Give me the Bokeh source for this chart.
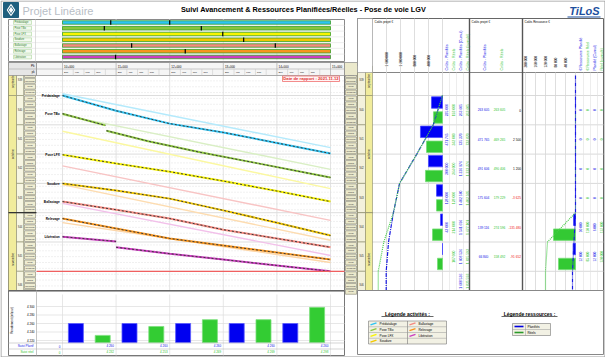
import math
import numpy as np
from bokeh.plotting import figure
from bokeh.models import Range1d
from bokeh.embed import file_html
from bokeh.resources import INLINE
from bokeh.core.properties import value

nan = float("nan")

# ---------------- DATA ----------------
activities = ["Prédatalage", "Pose TBo", "Pose LFX", "Soudure", "Ballastage", "Relevage", "Libération"]
act_colors = ["#2ec4f4", "#8cc63e", "#f8f400", "#f3c800", "#f58a80", "#f7951e", "#cc3ec0"]
plan_colors = ["#b4eafc", "#d9efc4", "#fbf8a0", "#fddcb0", "#f8c4c4", "#fcd6a8", "#f2c0ea"]

km_ticks = [10, 11, 12, 13, 14, 15]
km_labels = ["10+000", "11+000", "12+000", "13+000", "14+000", "15+000"]
sub_labels = ["200", "400", "600", "800"]

gantt_start = [10.0, 10.0, 10.0, 10.0, 10.0, 10.0, 10.0]
gantt_end = [15.0, 15.0, 15.0, 15.0, 15.0, 15.0, 15.0]
mark_row = [0, 0, 1, 1, 2, 3, 4, 4, 5, 6]
mark_pk = [10.90, 12.0, 10.78, 12.59, 12.99, 13.38, 11.29, 13.97, 12.29, 10.99]

# working days, 0 = lundi 04/10/2021
day_names = ["lundi", "mardi", "mercredi", "jeudi", "vendredi"]
week_labels = ["S39", "S40", "S41", "S42", "S43", "S44", "S45", "S46"]
week_start = [-5, 0, 5, 10, 15, 20, 25, 30]
month_labels = ["septembre", "octobre", "novembre"]
month_start = [-5, 0, 20]
month_end = [0, 20, 36]
report_day = 30.0
report_label = "Date de rapport : 2021.11.12"

# actual progress lines (pk in km, working day)
pred_pk = [10.0, 11.0, 12.0, 13.0, 14.0, 15.0]
pred_day = [0.0, 2.6, 4.8, 6.3, 8.1, 9.9]
tbo_pk = [10.0, 10.8, nan, 10.82, 11.6, 12.57, 13.6, 15.0]
tbo_day = [3.1, 5.1, nan, 6.0, 7.8, 9.7, 11.5, 14.0]
lfx_pk = [10.0, 11.0, 12.0, 13.0, 14.0, 15.0]
lfx_day = [10.1, 11.6, 13.0, 14.6, 16.3, 18.1]
soud_pk = [10.0, 11.0, 12.0, 13.0, 14.0, 15.0]
soud_day = [15.0, 16.2, 17.6, 19.6, 21.7, 23.9]
ball_pk = [10.0, 11.0, 12.0, 13.0, 14.0, 15.0]
ball_day = [18.1, 19.5, 21.0, 22.9, 24.4, 25.9]
rel_pk = [10.0, 11.0, 12.0, 13.0, 14.0, 15.0]
rel_day = [21.0, 22.7, 24.4, 25.6, 26.8, 28.0]
lib_pk = [10.0, 11.0, nan, 11.0, 12.0, 13.0, 14.0, 15.0]
lib_day = [24.1, 24.9, nan, 25.9, 27.0, 28.0, 29.0, 30.0]

# planned lines (start / end)
plan_pk_start = [10.0, 10.0, 10.0, 10.0, 10.0, 10.0, 10.0]
plan_pk_end = [15.0, 15.0, 15.0, 15.0, 15.0, 15.0, 15.0]
plan_day_start = [-0.3, 3.3, 6.1, 15.2, 12.0, 21.7, 18.4]
plan_day_end = [8.9, 12.6, 15.9, 24.7, 21.3, 28.5, 27.3]

# histogram (per km)
hist_centers = [10.5, 11.5, 12.5, 13.5, 14.5]
hist_plan = [4260, 4260, 4260, 4260, 4260]
hist_real = [4232, 4253, 4269, 4269, 4298]
hist_ticks = [4220, 4240, 4260, 4280, 4300]
hist_base = 4215

# costs (weekly rows)
week_rows = [0, 5, 10, 15, 20, 25]
costA_plan = [235000, 471765, 300000, 128000, 43000, 0]
costA_real = [193000, 342000, 364000, 128000, 214000, 107000]
cum_days = [0, 5, 10, 15, 20, 25, 30]
cum_plan = [0, 263605, 735370, 1226976, 1402580, 1541696, 1608536]
cum_real = [0, 263605, 732870, 1223276, 1402505, 1677101, 1835593]
costA_ticks = [400000, 800000, 1200000, 1600000]
costB_plan = [263605, 471765, 491606, 175604, 139116, 66840]
costB_real = [263605, 469265, 490406, 179229, 274596, 158492]
res_plan = [0, 0, 0, 0, 10000, 12000]
res_real = [0, 0, 0, 0, 110000, 85000]
res_cum_plan = [0, 0, 0, 0, 0, 6000, 12000]
res_cum_real = [0, 0, 0, 0, 0, 112000, 120000]
costC_ticks = [40000, 80000, 120000, 160000, 200000]

# ---------------- LAYOUT CONSTANTS ----------------
W, H = 605, 357
X_KM10, PX_KM = 62.0, 53.6
Y_DAY0, PX_DAY = 95.0, 5.86
Y_ROW0, PX_ROW = 22.0, 5.75
Y_H0, PX_H = 340.0, 0.425
XA0, EUR_A, EUR_AB = 442.0, 28571.43, 21400.0
XC0, EUR_C, EUR_CB = 575.0, 4000.0, 5000.0
FONT = value("Liberation Sans")
BLUE, GREEN = "#1515e8", "#33c533"


def fmt(v):
    return f"{int(round(v)):,}".replace(",", " ")


p = figure(width=W, height=H, x_range=Range1d(0, W), y_range=Range1d(H, 0),
           output_backend="svg", toolbar_location=None, min_border=0)
p.axis.visible = False
p.grid.visible = False
p.outline_line_color = None
p.background_fill_color = "white"
p.border_fill_color = "white"

p.extra_x_ranges = {
    "pk": Range1d(10 - X_KM10 / PX_KM, 10 + (W - X_KM10) / PX_KM),
    "cA": Range1d(XA0 * EUR_A, -(W - XA0) * EUR_A),
    "cAb": Range1d(XA0 * EUR_AB, -(W - XA0) * EUR_AB),
    "cC": Range1d(XC0 * EUR_C, -(W - XC0) * EUR_C),
    "cCb": Range1d(XC0 * EUR_CB, -(W - XC0) * EUR_CB),
}
p.extra_y_ranges = {
    "day": Range1d((H - Y_DAY0) / PX_DAY, -Y_DAY0 / PX_DAY),
    "row": Range1d((H - Y_ROW0) / PX_ROW, -Y_ROW0 / PX_ROW),
    "hist": Range1d(4220 - (H - Y_H0) / PX_H, 4220 + Y_H0 / PX_H),
}
DAY_TOP = (75 - Y_DAY0) / PX_DAY
DAY_BOT = (290 - Y_DAY0) / PX_DAY


def _lst(v, n):
    return list(v) if isinstance(v, (list, tuple)) else [v] * n


def txt(x, y, t, size="4px", color="black", align="left", base="middle", bold=False,
        angle=0.0, xr="default", yr="default", italic=False):
    style = "normal"
    if bold and italic:
        style = "bold italic"
    elif bold:
        style = "bold"
    elif italic:
        style = "italic"
    n = max(len(v) if isinstance(v, (list, tuple)) else 1 for v in (x, y, t))
    kw = dict(x=_lst(x, n), y=_lst(y, n), text=_lst(t, n))
    if isinstance(color, list):
        kw["text_color"] = color
        p.text(x="x", y="y", text="text", text_color="text_color", source=kw,
               text_font=FONT, text_font_size=size, text_align=align, text_baseline=base,
               text_font_style=style, angle=angle, x_range_name=xr, y_range_name=yr)
    else:
        p.text(x="x", y="y", text="text", source=kw, text_color=color,
               text_font=FONT, text_font_size=size, text_align=align, text_baseline=base,
               text_font_style=style, angle=angle, x_range_name=xr, y_range_name=yr)


def box(l, r, t, b, fill=None, line="#888", lw=1.0):
    p.quad(left=[l], right=[r], top=[t], bottom=[b], fill_color=fill,
           fill_alpha=1 if fill else 0, line_color=line, line_width=lw)


def hl(x0, x1, y, color="#ccc", lw=1.0, dash="solid", yr="default", xr="default"):
    ys = y if isinstance(y, list) else [y]
    p.segment(x0=[x0] * len(ys), x1=[x1] * len(ys), y0=ys, y1=ys, line_color=color,
              line_width=lw, line_dash=dash, y_range_name=yr, x_range_name=xr)


def vl(x, y0, y1, color="#ccc", lw=1.0, dash="solid", xr="default", yr="default"):
    xs = x if isinstance(x, list) else [x]
    p.segment(x0=xs, x1=xs, y0=[y0] * len(xs), y1=[y1] * len(xs), line_color=color,
              line_width=lw, line_dash=dash, x_range_name=xr, y_range_name=yr)


# ---------------- TITLE ----------------
box(0.5, 604.5, 0.5, 356.5, fill="white", line="#9a9a9a")
box(3, 18, 2, 17, fill="#1f5f7e", line="#1f5f7e")
p.scatter(x=[10.5], y=[9.5], marker="diamond", size=11, fill_color=None, line_color="white", line_width=1.2)
p.scatter(x=[10.5], y=[9.5], marker="diamond", size=5, fill_color="white", line_color="white")
txt(22, 10, "Projet Linéaire", size="11px", color="#b8bec6")
txt(303, 9, "Suivi Avancement & Ressources Planifiées/Réelles - Pose de voie LGV", size="7.3px", bold=True, align="center")
txt(584, 10, "TiLoS", size="11px", color="#1d4f9e", bold=True, italic=True, align="center")
hl(567, 600, 16.5, color="#1d4f9e", lw=1.2)

# ---------------- GANTT ----------------
box(8, 344, 19, 61, fill="white", line="#8a8a8a")
rows = list(range(len(activities)))
hl(8, 344, [Y_ROW0 + PX_ROW * (i + 0.5) for i in rows[:-1]], color="#e2e2e2", lw=0.6)
vl([35, 62], 19, 61, color="#d0d0d0", lw=0.7)
vl([km for km in km_ticks[1:-1]], -0.6, 6.6, color="#d8d8d8", lw=0.7, xr="pk", yr="row")
p.quad(left=[13] * 7, right=[31] * 7, top=[r - 0.33 for r in rows], bottom=[r + 0.33 for r in rows],
       fill_color="#f4faf0", line_color="#9ccf8c", line_width=0.5, y_range_name="row")
txt(14, rows, activities, size="2.6px", color="#2f7a2f", yr="row")
p.hbar(y=rows, left=gantt_start, right=gantt_end, height=0.6, fill_color=act_colors,
       line_color="#3aa02a", line_width=0.8, x_range_name="pk", y_range_name="row")
p.segment(x0=mark_pk, x1=mark_pk, y0=[r - 0.38 for r in mark_row], y1=[r + 0.38 for r in mark_row],
          line_color="black", line_width=1.2, x_range_name="pk", y_range_name="row")

# ---------------- MAIN CHART ----------------
box(8, 344, 62, 290, fill="white", line="#777")
all_days = list(range(-4, 34))
hl(36, 344, [d + 0.5 for d in all_days], color="#cfcfcf", lw=0.6, dash="1 2", yr="day")
hl(36, 344, week_start[1:], color="#d4d4d4", lw=0.8, yr="day")
vl(km_ticks, DAY_TOP, DAY_BOT, color="#dcdcdc", lw=0.8, xr="pk", yr="day")
# left axis
p.quad(left=[8] * 3, right=[16] * 3, top=month_start, bottom=month_end, fill_color="#f1ec9c",
       line_color="#8b8b6a", line_width=0.6, y_range_name="day")
p.quad(left=[16] * len(week_start), right=[23] * len(week_start), top=week_start,
       bottom=[w + 5 for w in week_start], fill_color="#f7f6e2", line_color="#8b8b6a",
       line_width=0.6, y_range_name="day")
p.quad(left=[24] * len(all_days), right=[35] * len(all_days), top=[d + 0.08 for d in all_days],
       bottom=[d + 0.92 for d in all_days], fill_color="#efedd2", line_color="#6e6e5a",
       line_width=0.5, y_range_name="day")
txt(29.5, [d + 0.5 for d in all_days], [day_names[d % 5] for d in all_days], size="2.4px",
    align="center", color="#333", yr="day")
txt(19.5, [w + 2.5 for w in week_start], week_labels, size="2.6px", align="center", color="#333", yr="day")
txt(12, [(a + b) / 2 for a, b in zip(month_start, month_end)], month_labels, size="3px",
    align="center", angle=math.pi / 2, color="#333", yr="day")
hl(8, 36, month_start[2], color="#333", lw=1.2, yr="day")
# right axis
p.quad(left=[345] * len(all_days), right=[356] * len(all_days), top=[d + 0.08 for d in all_days],
       bottom=[d + 0.92 for d in all_days], fill_color="#ebe9cc", line_color="#6e6e5a",
       line_width=0.5, y_range_name="day")
txt(350.5, [d + 0.5 for d in all_days], [day_names[d % 5] for d in all_days], size="2.4px",
    align="center", color="#333", yr="day")

# planned lines
for i in rows:
    p.line(x=[plan_pk_start[i], plan_pk_end[i]], y=[plan_day_start[i], plan_day_end[i]],
           line_color=plan_colors[i], line_width=1.4, x_range_name="pk", y_range_name="day")
# actual lines
real_pk = [pred_pk, tbo_pk, lfx_pk, soud_pk, ball_pk, rel_pk, lib_pk]
real_day = [pred_day, tbo_day, lfx_day, soud_day, ball_day, rel_day, lib_day]
for i in rows:
    p.line(x=real_pk[i], y=real_day[i], line_color=act_colors[i], line_width=2.0,
           x_range_name="pk", y_range_name="day")
    p.line(x=real_pk[i], y=real_day[i], line_color="#3a3a3a", line_width=1.0, line_dash="2 2",
           x_range_name="pk", y_range_name="day")
txt(9.95, [d[0] for d in real_day], activities, size="3.2px", bold=True, align="right",
    xr="pk", yr="day")
hl(36, 344, report_day, color="#f06060", lw=1.2, yr="day")

# header band (drawn over the grid)
box(8, 36, 62, 75, fill="#e6e6e6", line="#888", lw=0.7)
box(36, 344, 62, 75, fill="#f5f5f5", line="#888", lw=0.7)
box(344, 357, 62, 75, fill="#ebe9cc", line="#888", lw=0.7)
hl(8, 344, 68.5, color="#aaa", lw=0.6)
txt(34, 65, "Pk", size="3px", align="right")
txt(34, 71.5, "pk", size="2.6px", align="right")
vl(km_ticks, 62, 75, color="#aaa", lw=0.7, xr="pk")
txt([k + 0.03 for k in km_ticks], 65.3, km_labels, size="3px", xr="pk")
sub_x = [k + 0.2 * (j + 1) for k in km_ticks[:-1] for j in range(4)]
sub_t = [sub_labels[j] for k in km_ticks[:-1] for j in range(4)]
vl(sub_x, 68.5, 75, color="#c4c4c4", lw=0.5, xr="pk")
txt([x - 0.17 for x in sub_x], 71.8, sub_t, size="2.4px", xr="pk")
box(282, 339, 75.5, 81, fill="#fff4f4", line="#f07070", lw=0.8)
txt(310.5, 78.4, report_label, size="4.2px", color="#e03030", bold=True, align="center")

# ---------------- HISTOGRAM ----------------
box(8, 344, 290, 355, fill="white", line="#777")
hl(8, 344, 290.5, color="#555", lw=1.2)
hl(36, 344, hist_ticks, color="#dcdcdc", lw=0.7, yr="hist")
vl(km_ticks, 294, 355, color="#dcdcdc", lw=0.7, xr="pk")
vl(36, 290, 355, color="#aaa", lw=0.7)
txt(34, hist_ticks, [fmt(t) for t in hist_ticks], size="3px", align="right", yr="hist")
txt(11, 320, "Rendement (m/jour)", size="3px", align="center", angle=math.pi / 2)
p.vbar(x=[c - 0.25 for c in hist_centers], top=hist_plan, bottom=hist_base, width=0.28,
       fill_color="#0000f0", line_color="#5a5aff", line_width=0.8, x_range_name="pk", y_range_name="hist")
p.vbar(x=[c + 0.25 for c in hist_centers], top=hist_real, bottom=hist_base, width=0.28,
       fill_color="#33cc33", line_color="#7be07b", line_width=0.8, x_range_name="pk", y_range_name="hist")
hl(8, 344, [342.5, 348.5], color="#bbb", lw=0.6)
txt(33, 345.5, "Suivi Planif", size="3.2px", color=BLUE, align="right")
txt(33, 351.5, "Suivi réel", size="3.2px", color=GREEN, align="right")
txt([k - 0.04 for k in km_ticks], 345.5, ["0"] + [fmt(v) for v in hist_plan], size="3px",
    color=BLUE, align="right", xr="pk")
txt([k - 0.04 for k in km_ticks], 351.5, ["0"] + [fmt(v) for v in hist_real], size="3px",
    color=GREEN, align="right", xr="pk")

# ---------------- COSTS ----------------
box(357, 603, 18, 290, fill="white", line="#666")
hl(357, 603, 72, color="#666", lw=0.8)
hl(357, 603, week_start[1:], color="#cfcfcf", lw=0.8, yr="day")
hl(357, 372, month_start[2], color="#333", lw=1.2, yr="day")
p.quad(left=[357] * len(week_start), right=[365] * len(week_start), top=week_start,
       bottom=[w + 5 for w in week_start], fill_color="#f3f1dc", line_color="#8b8b6a",
       line_width=0.6, y_range_name="day")
txt(361, [w + 2.5 for w in week_start], week_labels, size="2.6px", align="center", color="#333", yr="day")
p.quad(left=[365] * 3, right=[372] * 3, top=month_start, bottom=month_end, fill_color="#f1ec9c",
       line_color="#8b8b6a", line_width=0.6, y_range_name="day")
txt(368.5, [(a + b) / 2 for a, b in zip(month_start, month_end)], month_labels, size="3px",
    align="center", angle=math.pi / 2, color="#333", yr="day")
box(357, 372, 18, 72, fill="white", line="#888", lw=0.6)

# panel A
vl(costA_ticks + [0], 18, 290, color="#d6d6d6", lw=0.8, xr="cA")
vl([449, 456, 463], 72, 290, color="#e0e0e0", lw=0.6)
txt(374, 21.5, "Coûts projet €", size="3px")
txt(costA_ticks, 66, [fmt(t) for t in costA_ticks], size="3.2px", angle=math.pi / 2, xr="cA")
txt([446, 453, 460, 467], 70,
    ["Coûts - Planifiés", "Coûts - Réels", "Coûts - Planifiés (Cumul)", "Coûts - Réels (cumulé)"],
    size="3.6px", angle=math.pi / 2, color=[BLUE, GREEN, BLUE, GREEN])
p.hbar(y=[w + 1.2 for w in week_rows], height=1.95, left=0, right=costA_plan, fill_color="#0000f5",
       line_color="#4a4aff", line_width=0.8, x_range_name="cAb", y_range_name="day")
p.hbar(y=[w + 3.75 for w in week_rows], height=1.95, left=0, right=costA_real, fill_color="#33c933",
       line_color="#77dd77", line_width=0.8, x_range_name="cAb", y_range_name="day")
p.line(x=cum_plan + [cum_plan[-1]], y=cum_days + [DAY_BOT], line_color="#1a1ae0", line_width=1.2,
       line_dash="4 1 1 1", x_range_name="cA", y_range_name="day")
p.line(x=cum_real + [cum_real[-1]], y=cum_days + [DAY_BOT], line_color="#44cc44", line_width=1.2,
       line_dash="1 1", x_range_name="cA", y_range_name="day")
mid = [w + 2.5 for w in week_rows]
txt(446, mid, [fmt(v) if v else "" for v in costA_plan], size="3.4px", color=BLUE, align="center", angle=math.pi / 2, yr="day")
txt(453, mid, [fmt(v) for v in costA_real], size="3.4px", color=GREEN, align="center", angle=math.pi / 2, yr="day")
txt(460, mid + [31.7], [fmt(v) for v in cum_plan[1:]] + [fmt(cum_plan[-1])], size="3.4px", color=BLUE, align="center", angle=math.pi / 2, yr="day")
txt(467, mid + [31.7], [fmt(v) for v in cum_real[1:]] + [fmt(cum_real[-1])], size="3.4px", color=GREEN, align="center", angle=math.pi / 2, yr="day")

# panel B
vl(469, 18, 290, color="#555", lw=1.4)
txt(471, 21.5, "Coûts projet €", size="3px")
txt([484, 501], 70, ["Coûts - Planifiés", "Coûts - Réels"], size="3.6px", angle=math.pi / 2,
    color=[BLUE, GREEN])
txt(483, mid, [fmt(v) for v in costB_plan], size="3.2px", color=BLUE, align="center", yr="day")
txt(499, mid, [fmt(v) for v in costB_real], size="3.2px", color=GREEN, align="center", yr="day")
diffB = [a - b for a, b in zip(costB_plan, costB_real)]
txt(520.5, mid, [fmt(v) for v in diffB], size="3.2px",
    color=["black" if v >= 0 else "#ee2020" for v in diffB], align="right", yr="day")

# panel C
vl(522, 18, 290, color="#555", lw=1.4)
txt(524, 21.5, "Coûts Ressource €", size="3px")
vl(costC_ticks + [0], 72, 290, color="#d6d6d6", lw=0.8, xr="cC")
vl([583, 590, 597], 72, 290, color="#e0e0e0", lw=0.6)
txt(costC_ticks, 67, [fmt(t) for t in costC_ticks], size="3.2px", angle=math.pi / 2, xr="cC")
txt([580, 587, 594, 601], 70,
    ["€ Ressource Planifié", "€ Ressource Réel", "Planifié (Cumul)", "Réel (cumulé)"],
    size="3.6px", angle=math.pi / 2, color=[BLUE, GREEN, BLUE, GREEN])
p.hbar(y=[w + 1.2 for w in week_rows], height=1.95, left=0, right=res_plan, fill_color="#0000f5",
       line_color="#4a4aff", line_width=0.8, x_range_name="cCb", y_range_name="day")
p.hbar(y=[w + 3.75 for w in week_rows], height=1.95, left=0, right=res_real, fill_color="#33c933",
       line_color="#77dd77", line_width=0.8, x_range_name="cCb", y_range_name="day")
p.line(x=res_cum_plan + [res_cum_plan[-1]], y=[DAY_TOP] + cum_days[1:] + [DAY_BOT], line_color="#1a1ae0",
       line_width=1.2, line_dash="4 1 1 1", x_range_name="cC", y_range_name="day")
p.line(x=res_cum_real[4:] + [res_cum_real[-1]], y=cum_days[4:] + [DAY_BOT], line_color="#44cc44",
       line_width=1.2, line_dash="1 1", x_range_name="cC", y_range_name="day")
txt(580, mid, [fmt(v) for v in res_plan], size="3.2px", color=BLUE, align="center", angle=math.pi / 2, yr="day")
txt(587, mid, [fmt(v) for v in res_real], size="3.2px", color=GREEN, align="center", angle=math.pi / 2, yr="day")
txt(594, mid, [fmt(v) for v in res_cum_plan[1:]], size="3.2px", color=BLUE, align="center", angle=math.pi / 2, yr="day")
txt(601, mid, [fmt(v) for v in res_cum_real[1:]], size="3.2px", color=GREEN, align="center", angle=math.pi / 2, yr="day")

# ---------------- LEGENDS ----------------
box(357, 603, 290, 354, fill="white", line="#888")
txt(407, 313, "Légende activités :", size="5px", bold=True, align="center")
hl(381, 433, 316, color="black", lw=0.6)
box(368, 446, 320.5, 343.5, fill="#f2f1e4", line="#777", lw=0.6)
vl(407, 320.5, 343.5, color="#777", lw=0.6)
hl(368, 446, [326.25, 332, 337.75], color="#999", lw=0.5)
leg_y = [323.4, 329.1, 334.9, 340.6]
for i in rows:
    col, r = (0, i) if i < 4 else (1, i - 4)
    x0 = 370 if col == 0 else 409
    y = leg_y[r]
    p.segment(x0=[x0], x1=[x0 + 6], y0=[y + 1], y1=[y - 1], line_color=act_colors[i], line_width=1.4)
    txt(x0 + 9, y, activities[i], size="3.2px")
txt(529, 313, "Légende ressources :", size="5px", bold=True, align="center")
hl(501, 557, 316, color="black", lw=0.6)
box(512, 550, 323, 335, fill="#f2f1e4", line="#777", lw=0.6)
hl(512, 550, 329, color="#999", lw=0.5)
vl(525, 323, 335, color="#999", lw=0.5)
hl(514, 523, 326, color="#0000e0", lw=1.6)
hl(514, 523, 332, color="#2a9a2a", lw=1.6)
txt(527, 326, "Planifiés", size="3.2px")
txt(527, 332, "Réels", size="3.2px")

open("out.html", "w").write(file_html(p, INLINE))
